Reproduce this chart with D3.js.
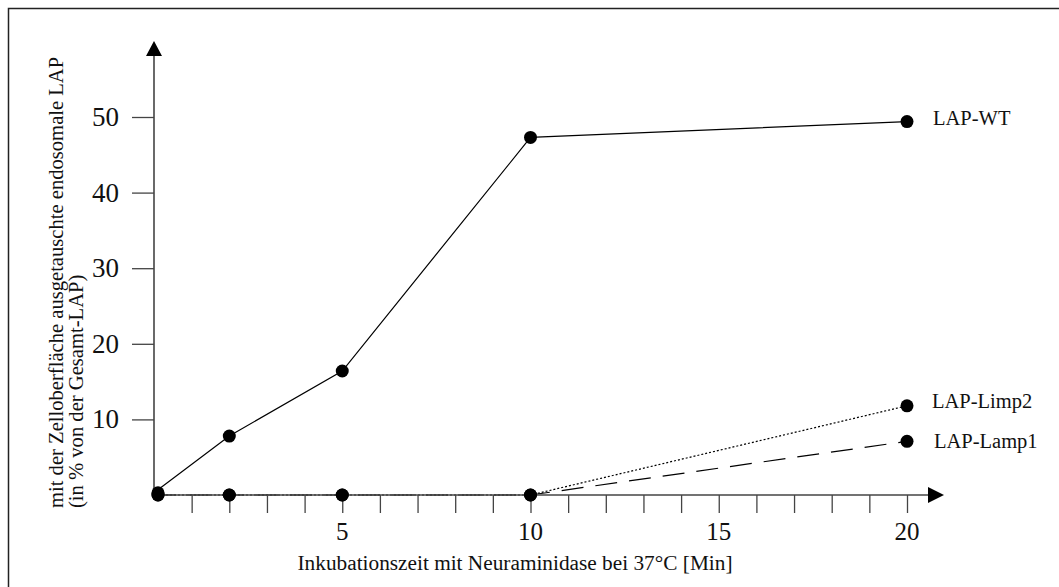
<!DOCTYPE html>
<html>
<head>
<meta charset="utf-8">
<script src="https://cdn.jsdelivr.net/npm/d3@7"></script>
<style>
  body { margin: 0; background: #fff; }
  svg { display: block; }
  text { font-family: "Liberation Serif", "DejaVu Serif", serif; fill: #111; }
</style>
</head>
<body>
<div class="chart"></div>
<script>
// Inkubationszeit (Min) und Anteil ausgetauschter LAP (%)
var times = [0, 2, 5, 10, 20]
var wt    = [0.3, 7.8, 16.4, 47.3, 49.4]
var limp2 = [0, 0, 0, 0, 11.8]
var lamp1 = [0, 0, 0, 0, 7.1]

var seriesNames = ['LAP-WT', 'LAP-Limp2', 'LAP-Lamp1']
var xTicks = d3.range(1, 21)
var xTickLabels = [5, 10, 15, 20]
var yTicks = [10, 20, 30, 40, 50]

var xTitle = 'Inkubationszeit mit Neuraminidase bei 37°C [Min]'
var yTitle = ['mit der Zelloberfläche ausgetauschte endosomale LAP', '(in % von der Gesamt-LAP)']

var width = 1059, height = 587

var series = [
  {name: seriesNames[0], values: wt, dash: null},
  {name: seriesNames[1], values: limp2, dash: '2,2'},
  {name: seriesNames[2], values: lamp1, dash: '22,12'},
]

var svg = d3.select('.chart').append('svg')
  .attr('width', width).attr('height', height)

// frame (runs off the page on the right and bottom)
svg.append('rect')
  .attr('x', 8.5).attr('y', 8.5)
  .attr('width', 1200).attr('height', 800)
  .attr('fill', 'none').attr('stroke', '#222').attr('stroke-width', 1.5)

var x = d3.scaleLinear().domain([0, 20]).range([154, 907])
var y = d3.scaleLinear().domain([0, 50]).range([495, 117])

var line = d3.line()
  .x((d, i) => x(times[i]))
  .y(d => y(d))

// lines first, axes drawn over them hide the parts lying on zero
svg.selectAll('path.series').data(series).join('path')
  .attr('class', 'series')
  .attr('d', d => line(d.values))
  .attr('fill', 'none')
  .attr('stroke', '#000')
  .attr('stroke-width', 1.2)
  .attr('stroke-dasharray', d => d.dash)

var axisColor = '#444'

// x axis
var xAxis = d3.axisBottom(x)
  .tickValues(xTicks)
  .tickSize(18)
  .tickFormat('')
var gx = svg.append('g')
  .attr('transform', 'translate(0,' + y(0) + ')')
  .call(xAxis)
gx.select('.domain').remove()
gx.selectAll('.tick line').attr('stroke', axisColor).attr('stroke-width', 1.3)
gx.append('line')
  .attr('x1', x(0)).attr('x2', 930)
  .attr('stroke', axisColor).attr('stroke-width', 1.6)
gx.append('path')
  .attr('d', 'M928,-8 L944,0 L928,8 Z')
  .attr('fill', '#000')

svg.selectAll('text.xlab').data(xTickLabels).join('text')
  .attr('class', 'xlab')
  .attr('x', d => x(d))
  .attr('y', 540)
  .attr('text-anchor', 'middle')
  .attr('font-size', 25)
  .text(d => d)

// y axis
var yAxis = d3.axisLeft(y)
  .tickValues(yTicks)
  .tickSize(22)
  .tickFormat('')
var gy = svg.append('g')
  .attr('transform', 'translate(' + x(0) + ',0)')
  .call(yAxis)
gy.select('.domain').remove()
gy.selectAll('.tick line').attr('stroke', axisColor).attr('stroke-width', 1.3)
gy.append('line')
  .attr('y1', y(0)).attr('y2', 54)
  .attr('stroke', axisColor).attr('stroke-width', 1.6)
gy.append('path')
  .attr('d', 'M-8,56 L0,41 L8,56 Z')
  .attr('fill', '#000')

svg.selectAll('text.ylab').data(yTicks).join('text')
  .attr('class', 'ylab')
  .attr('x', 119)
  .attr('y', d => y(d) + 9)
  .attr('text-anchor', 'end')
  .attr('font-size', 27)
  .text(d => d)

// dots
series.forEach(s => {
  svg.append('g').selectAll('circle').data(s.values).join('circle')
    .attr('cx', (d, i) => x(times[i]) + (i == 0 ? 4 : 0))
    .attr('cy', d => y(d))
    .attr('r', 6.5)
    .attr('fill', '#000')
})

// series labels
var labelPos = [[933, 125], [932, 408], [934, 448]]
svg.selectAll('text.slab').data(series).join('text')
  .attr('class', 'slab')
  .attr('x', (d, i) => labelPos[i][0])
  .attr('y', (d, i) => labelPos[i][1])
  .attr('font-size', 20.5)
  .text(d => d.name)

// titles
svg.append('text')
  .attr('x', 515).attr('y', 570)
  .attr('text-anchor', 'middle')
  .attr('font-size', 21.3)
  .text(xTitle)

svg.selectAll('text.ytitle').data(yTitle).join('text')
  .attr('class', 'ytitle')
  .attr('transform', (d, i) => 'translate(' + [63 + i * 20, 508] + ') rotate(-90)')
  .attr('font-size', 20.6)
  .text(d => d)
</script>
</body>
</html>
